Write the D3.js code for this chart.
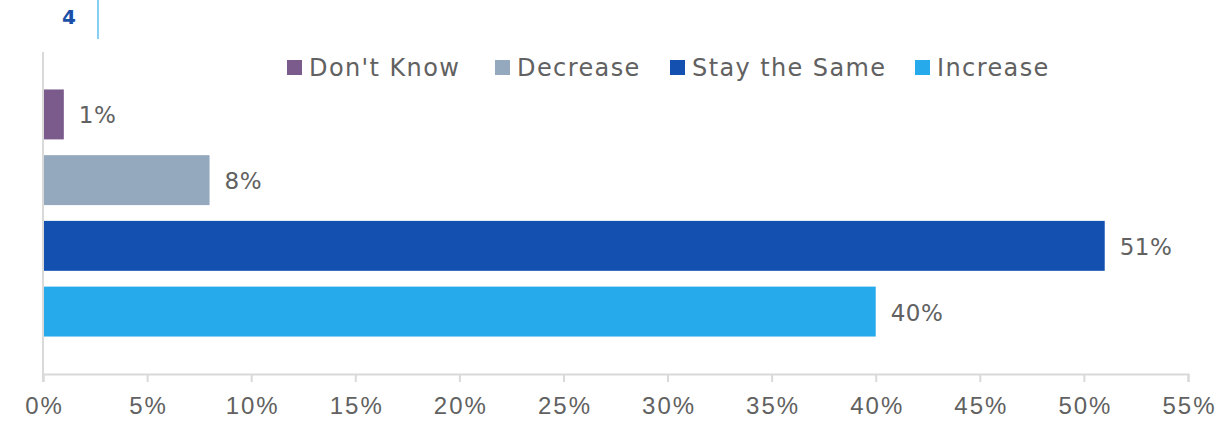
<!DOCTYPE html>
<html>
<head>
<meta charset="utf-8">
<script src="https://cdn.jsdelivr.net/npm/d3@7"></script>
<style>
  body { margin: 0; background: #fff; }
  svg { display: block; font-family: "DejaVu Sans", sans-serif; }
</style>
</head>
<body>
<div id="chart"></div>
<script>
// data
var categories = ["Don't Know", "Decrease", "Stay the Same", "Increase"];
var values = [1, 8, 51, 40];
var colors = ["#7b5a8c", "#94a9be", "#1350b0", "#27aaeb"];
var xTicks = [0, 5, 10, 15, 20, 25, 30, 35, 40, 45, 50, 55];

var width = 1217, height = 421;
var margin = { top: 52, right: 29, bottom: 47, left: 43 };
var innerW = width - margin.left - margin.right;
var innerH = height - margin.top - margin.bottom;

var svg = d3.select("#chart")
            .append("svg")
            .attr("width", width)
            .attr("height", height);

// page header bits (number + rule)
svg.append("text")
   .attr("x", 69)
   .attr("y", 24)
   .attr("text-anchor", "middle")
   .style("font-size", "20px")
   .style("font-weight", "bold")
   .style("fill", "#1a4fa8")
   .text("4");
svg.append("line")
   .attr("x1", 98).attr("x2", 98)
   .attr("y1", 0).attr("y2", 39)
   .style("stroke", "#5cc0f0")
   .style("stroke-width", 1.5);

var g = svg.append("g")
           .attr("transform", "translate(" + margin.left + "," + margin.top + ")");

// scales
var xScale = d3.scaleLinear()
               .domain([0, 55])
               .range([0, innerW]);
var yScale = d3.scaleBand()
               .domain(categories)
               .range([0, innerH])
               .paddingInner(0.24)
               .paddingOuter(0.57);

// x axis
var xAxis = d3.axisBottom(xScale)
              .tickValues(xTicks)
              .tickSize(8)
              .tickPadding(15)
              .tickFormat(function(d) { return d + "%"; });

var ax = g.append("g")
          .attr("class", "x axis")
          .attr("transform", "translate(0," + innerH + ")")
          .call(xAxis);
ax.select(".domain").style("stroke", "#d9d9d9").style("stroke-width", 2);
ax.selectAll(".tick line").style("stroke", "#d9d9d9").style("stroke-width", 2);
ax.selectAll("text")
  .attr("dx", 1)
  .style("font-size", "24px")
  .style("letter-spacing", "2px")
  .style("fill", "#616161");

// left axis line
g.append("line")
 .attr("x1", 0).attr("x2", 0)
 .attr("y1", 0).attr("y2", innerH + 8)
 .style("stroke", "#d9d9d9")
 .style("stroke-width", 2);

// bars
g.selectAll("rect.bar")
 .data(values)
 .enter()
 .append("rect")
 .attr("class", "bar")
 .attr("x", 1)
 .attr("y", function(d, i) { return yScale(categories[i]); })
 .attr("width", function(d) { return xScale(d) - 1; })
 .attr("height", yScale.bandwidth())
 .style("fill", function(d, i) { return colors[i]; });

// value labels
g.selectAll("text.val")
 .data(values)
 .enter()
 .append("text")
 .attr("class", "val")
 .attr("x", function(d) { return xScale(d) + 15; })
 .attr("y", function(d, i) { return yScale(categories[i]) + yScale.bandwidth() / 2 + 1; })
 .attr("dy", "0.35em")
 .style("font-size", "23px")
 .style("letter-spacing", "0.5px")
 .style("fill", "#616161")
 .text(function(d) { return d + "%"; });

// legend
var legendX = [287, 495, 670, 915];
var legend = svg.selectAll("g.legend")
                .data(categories)
                .enter()
                .append("g")
                .attr("class", "legend")
                .attr("transform", function(d, i) { return "translate(" + legendX[i] + ",60)"; });
legend.append("rect")
      .attr("width", 15)
      .attr("height", 15)
      .style("fill", function(d, i) { return colors[i]; });
legend.append("text")
      .attr("x", 22)
      .attr("y", 8)
      .attr("dy", "0.35em")
      .style("font-size", "24px")
      .style("letter-spacing", "1.4px")
      .style("fill", "#616161")
      .text(function(d) { return d; });
</script>
</body>
</html>
